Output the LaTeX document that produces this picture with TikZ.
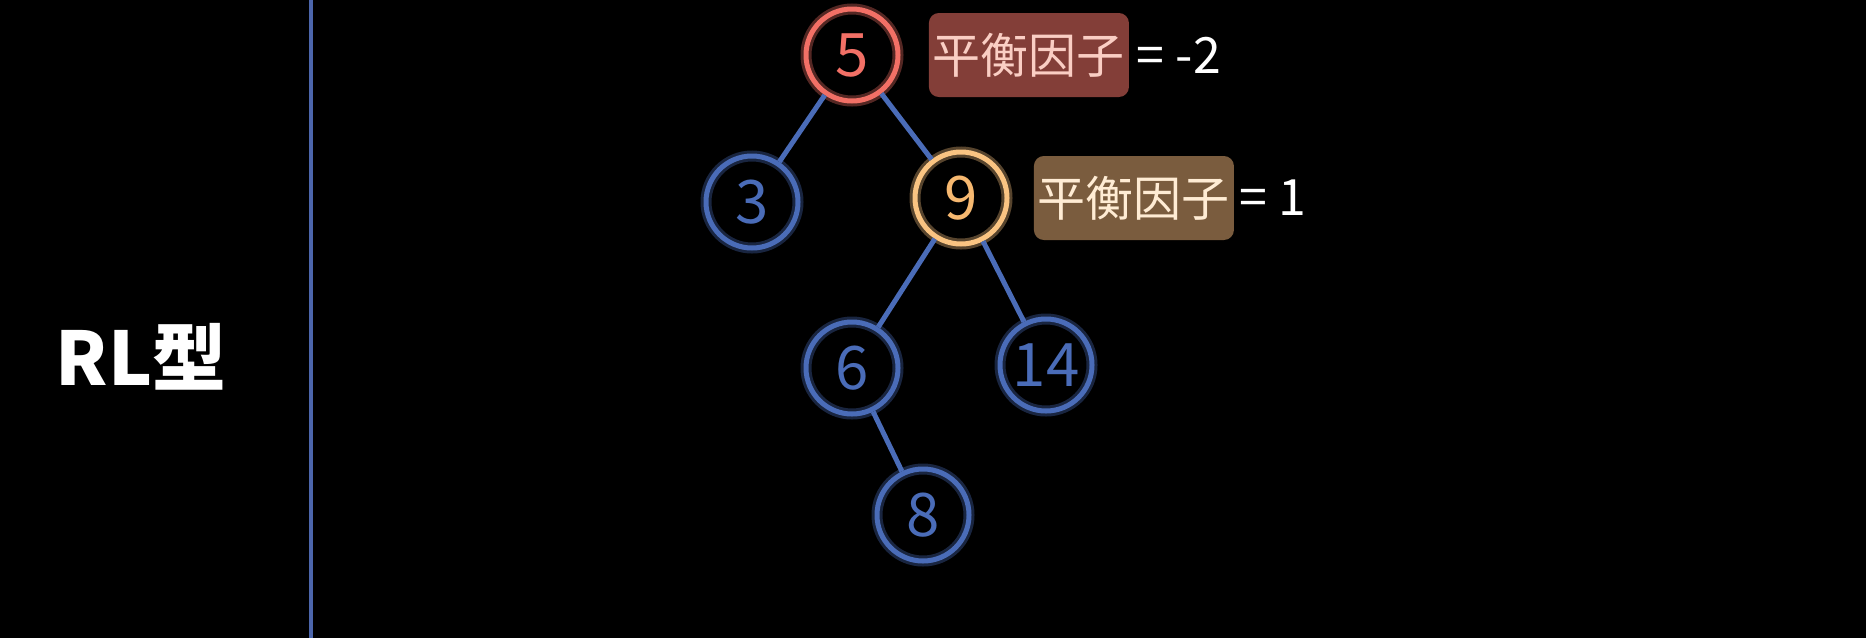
\documentclass[tikz,border=0pt]{standalone}
\usepackage{fontspec}
\setmainfont{Noto Sans CJK SC}
\usetikzlibrary{positioning}
\definecolor{treeblue}{RGB}{74,108,184}
\definecolor{rootred}{RGB}{242,112,102}
\definecolor{midorange}{RGB}{250,196,130}
\definecolor{midorangetext}{RGB}{246,184,112}
\definecolor{boxred}{RGB}{131,62,56}
\definecolor{boxredtext}{RGB}{250,206,196}
\definecolor{boxbrown}{RGB}{122,92,62}
\definecolor{boxbrowntext}{RGB}{255,236,212}
\definecolor{sepblue}{RGB}{76,102,172}

\begin{document}
\begin{tikzpicture}[x=0.5pt,y=-0.5pt,
  key/.style={on grid,circle,draw=#1,text=#1,line width=2.5pt,minimum size=46pt,inner sep=0pt,
    font=\fontsize{30}{30}\selectfont,preaction={draw=#1,line width=5.5pt,opacity=0.35}},
  key/.default=treeblue,
  edge/.style={draw=treeblue,line width=2.5pt},
  tag/.style={fill=#1,rounded corners=5pt,minimum width=100pt,minimum height=42pt,inner sep=0pt,
    font=\fontsize{24}{24}\selectfont},
  eq/.style={text=white,inner sep=1pt,font=\fontsize{25}{25}\selectfont}]
\fill[black] (0,0) rectangle (1866,638);
\useasboundingbox (0,0) rectangle (1866,638);

% left side
\node[text=white,font=\fontsize{37}{37}\selectfont\bfseries] (kind) at (141,357) {RL型};
\coordinate (septop) at (311,0);
\coordinate (sepbot) at (311,638);
\draw[sepblue,line width=2pt] (septop) -- (sepbot);

% tree
\node[key=rootred] (n5) at (852,55) {5};
\node[key,below left=73.5pt and 50pt of n5] (n3) {3};
\node[key=midorange,text=midorangetext,below right=71.5pt and 54.5pt of n5] (n9) {9};
\node[key,below left=85pt and 54.5pt of n9] (n6) {6};
\node[key,below right=83.5pt and 42.5pt of n9] (n14) {14};
\node[key,below right=73.5pt and 35.5pt of n6] (n8) {8};
\draw[edge] (n5) -- (n3);
\draw[edge] (n5) -- (n9);
\draw[edge] (n9) -- (n6);
\draw[edge] (n9) -- (n14);
\draw[edge] (n6) -- (n8);

% balance factors
\node[tag=boxred,text=boxredtext,right=14pt of n5] (f5) {平衡因子};
\node[eq,right=2.5pt of f5] (v5) {= -2};
\node[tag=boxbrown,text=boxbrowntext,right=12pt of n9] (f9) {平衡因子};
\node[eq,right=1.5pt of f9] (v9) {= 1};
\end{tikzpicture}
\end{document}
